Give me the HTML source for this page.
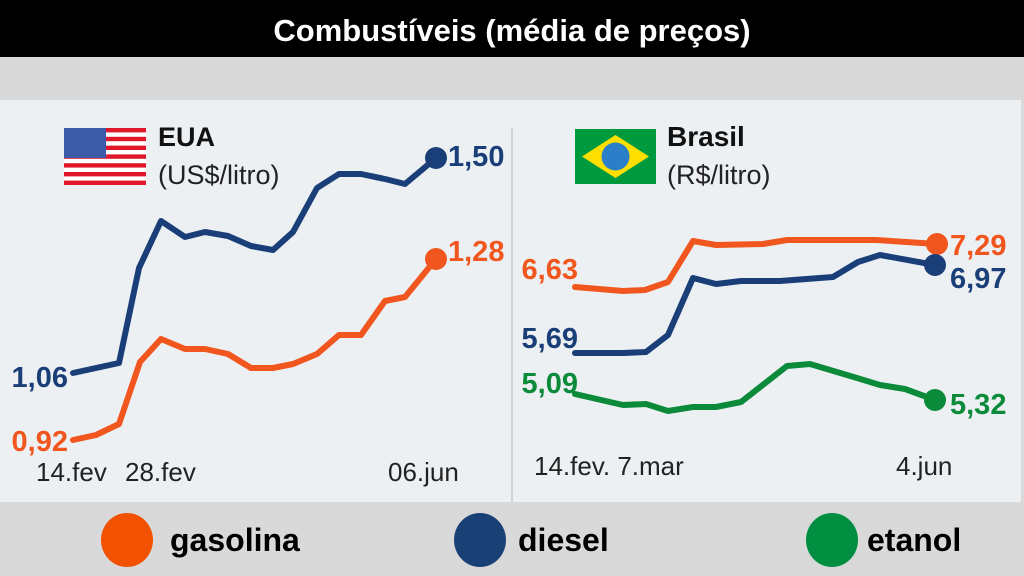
<!DOCTYPE html>
<html><head><meta charset="utf-8"><style>
html,body{margin:0;padding:0;width:1024px;height:576px;overflow:hidden;background:#d9d9d9}
svg{display:block}
</style></head><body>
<svg width="1024" height="576" viewBox="0 0 1024 576" font-family="Liberation Sans, sans-serif">
<rect x="0" y="0" width="1024" height="576" fill="#d9d9d9"/>
<rect x="0" y="0" width="1024" height="57" fill="#000"/>
<text x="512" y="41" fill="#fff" font-size="31" font-weight="bold" text-anchor="middle">Combustíveis (média de preços)</text>
<rect x="0" y="100" width="1021" height="402" fill="#edf0f3"/>
<line x1="512" y1="128" x2="512" y2="502" stroke="#d0d3d6" stroke-width="2"/>
<g>
<rect x="64" y="128" width="82" height="57" fill="#fff"/>
<g fill="#e0162b">
<rect x="64" y="128" width="82" height="4.4"/><rect x="64" y="136.8" width="82" height="4.4"/><rect x="64" y="145.6" width="82" height="4.4"/><rect x="64" y="154.4" width="82" height="4.4"/><rect x="64" y="163.2" width="82" height="4.4"/><rect x="64" y="172" width="82" height="4.4"/><rect x="64" y="180.6" width="82" height="4.4"/>
</g>
<rect x="64" y="128" width="42" height="30" fill="#3c5aa8"/>
</g>
<text x="158" y="146" font-size="27" font-weight="bold" fill="#111">EUA</text>
<text x="158" y="184" font-size="27" fill="#222">(US$/litro)</text>
<rect x="575" y="129" width="81" height="55" fill="#009a3e"/>
<polygon points="582,156.5 615.5,135 649,156.5 615.5,178" fill="#fedf00"/>
<circle cx="615.5" cy="156.5" r="14" fill="#2a7fc8"/>
<text x="667" y="146" font-size="28" font-weight="bold" fill="#111">Brasil</text>
<text x="667" y="184" font-size="27" fill="#222">(R$/litro)</text>
<g fill="none" stroke-width="6" stroke-linejoin="round" stroke-linecap="round">
<polyline stroke="#1a3f78" points="73,373 119,363 139,268 161,221 185,237 205,232 228,236 251,246 273,250 293,232 317,188 339,174 361,174 385,179 405,184 436,158"/>
<polyline stroke="#f0561e" points="73,440 96,435 119,424 140,362 161,339 185,349 205,349 228,354 251,368 273,368 293,364 317,354 339,335 361,335 385,301 405,297 436,259"/>
<polyline stroke="#f0561e" points="575,287 623,291 645,290 668,282 693,241 716,245 763,244 787,240 824,240 876,240 937,244"/>
<polyline stroke="#1a3f78" points="575,353 623,353 646,352 668,335 693,278 716,284 741,281 780,281 833,277 858,262 880,255 935,265"/>
<polyline stroke="#0b8a3a" points="575,394 623,405 646,404 668,411 693,407 716,407 741,402 787,366 810,364 857,378 880,385 905,389 935,400"/>
</g>
<circle cx="436" cy="158" r="11" fill="#1a3f78"/>
<circle cx="436" cy="259" r="11" fill="#f0561e"/>
<circle cx="937" cy="244" r="11" fill="#f0561e"/>
<circle cx="935" cy="265" r="11" fill="#1a3f78"/>
<circle cx="935" cy="400" r="11" fill="#0b8a3a"/>
<g font-size="29" font-weight="bold">
<text x="448" y="166" fill="#1a3f78">1,50</text>
<text x="448" y="261" fill="#f0561e">1,28</text>
<text x="68" y="387" fill="#1a3f78" text-anchor="end">1,06</text>
<text x="68" y="451" fill="#f0561e" text-anchor="end">0,92</text>
<text x="578" y="279" fill="#f0561e" text-anchor="end">6,63</text>
<text x="578" y="348" fill="#1a3f78" text-anchor="end">5,69</text>
<text x="578" y="393" fill="#0b8a3a" text-anchor="end">5,09</text>
<text x="950" y="255" fill="#f0561e">7,29</text>
<text x="950" y="288" fill="#1a3f78">6,97</text>
<text x="950" y="414" fill="#0b8a3a">5,32</text>
</g>
<g font-size="26" fill="#222">
<text x="36" y="481">14.fev</text>
<text x="125" y="481">28.fev</text>
<text x="388" y="481">06.jun</text>
<text x="534" y="475">14.fev. 7.mar</text>
<text x="896" y="475">4.jun</text>
</g>
<ellipse cx="127" cy="540" rx="26" ry="27" fill="#f25100"/>
<ellipse cx="480" cy="540" rx="26" ry="27" fill="#1a4176"/>
<ellipse cx="832" cy="540" rx="26" ry="27" fill="#008e41"/>
<g font-size="32" font-weight="bold" fill="#000">
<text x="170" y="551">gasolina</text>
<text x="518" y="551">diesel</text>
<text x="867" y="551">etanol</text>
</g>
</svg>
</body></html>
